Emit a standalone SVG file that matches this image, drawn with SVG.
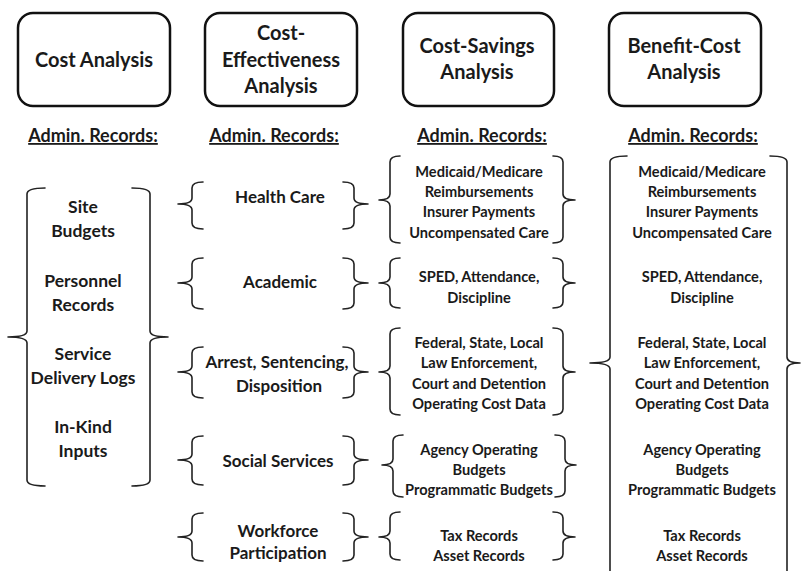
<svg xmlns="http://www.w3.org/2000/svg" width="801" height="571" viewBox="0 0 801 571">
  <style>
    text { font-family: Lato, "Liberation Sans", sans-serif; font-weight: bold; fill: #1a1a1a; text-anchor: middle; }
    .title { font-size: 20px; }
    .admin { font-size: 18px; text-decoration: underline; }
    .big { font-size: 17.5px; }
    .mid { font-size: 17px; }
    .small { font-size: 14.6px; }
    .box { fill: #ffffff; stroke: #111111; stroke-width: 2.5; }
    .brace { fill: none; stroke: #222222; stroke-width: 1.6; stroke-linejoin: round; stroke-linecap: round; }
  </style>
  <rect width="801" height="571" fill="#ffffff"/>

  <!-- Analysis type headers -->
  <g id="cost-analysis">
    <rect class="box" x="18" y="13" width="152" height="93" rx="15"/>
    <text class="title" x="94" y="67">Cost Analysis</text>
  </g>
  <g id="cost-effectiveness">
    <rect class="box" x="205" y="13" width="152" height="93" rx="15"/>
    <text class="title" x="281" y="40">Cost-</text>
    <text class="title" x="281" y="67">Effectiveness</text>
    <text class="title" x="281" y="93">Analysis</text>
  </g>
  <g id="cost-savings">
    <rect class="box" x="403" y="13" width="151" height="93" rx="15"/>
    <text class="title" x="477" y="53">Cost-Savings</text>
    <text class="title" x="477" y="79">Analysis</text>
  </g>
  <g id="benefit-cost">
    <rect class="box" x="609" y="13" width="152" height="93" rx="15"/>
    <text class="title" x="684" y="53">Benefit-Cost</text>
    <text class="title" x="684" y="79">Analysis</text>
  </g>

  <!-- Column captions -->
  <g id="captions">
    <text class="admin" x="93" y="142">Admin. Records:</text>
    <text class="admin" x="274" y="142">Admin. Records:</text>
    <text class="admin" x="482" y="142">Admin. Records:</text>
    <text class="admin" x="693" y="142">Admin. Records:</text>
  </g>

  <!-- Braces grouping the record sources -->
  <g id="connectors">
    <!-- cost analysis -->
    <path class="brace" d="M45,188 Q27,188 27,194 V331 Q27,337 8,337 Q27,337 27,343 V480 Q27,486 45,486"/>
    <path class="brace" d="M132,188 Q150,188 150,194 V331 Q150,337 168,337 Q150,337 150,343 V480 Q150,486 132,486"/>
    <!-- cost-effectiveness -->
    <path class="brace" d="M203,182 Q192,182 192,188 V198 Q192,204 178,204 Q192,204 192,210 V223 Q192,229 203,229"/>
    <path class="brace" d="M343,182 Q354,182 354,188 V198 Q354,204 368,204 Q354,204 354,210 V223 Q354,229 343,229"/>
    <path class="brace" d="M203,258 Q192,258 192,264 V277 Q192,283 178,283 Q192,283 192,289 V303 Q192,309 203,309"/>
    <path class="brace" d="M343,258 Q354,258 354,264 V277 Q354,283 368,283 Q354,283 354,289 V303 Q354,309 343,309"/>
    <path class="brace" d="M203,347 Q192,347 192,353 V366 Q192,372 178,372 Q192,372 192,378 V392 Q192,398 203,398"/>
    <path class="brace" d="M343,347 Q354,347 354,353 V366 Q354,372 368,372 Q354,372 354,378 V392 Q354,398 343,398"/>
    <path class="brace" d="M203,436 Q192,436 192,442 V454 Q192,460 178,460 Q192,460 192,466 V479 Q192,485 203,485"/>
    <path class="brace" d="M343,436 Q354,436 354,442 V454 Q354,460 368,460 Q354,460 354,466 V479 Q354,485 343,485"/>
    <path class="brace" d="M203,513 Q192,513 192,519 V531 Q192,537 178,537 Q192,537 192,543 V555 Q192,561 203,561"/>
    <path class="brace" d="M343,513 Q354,513 354,519 V531 Q354,537 368,537 Q354,537 354,543 V555 Q354,561 343,561"/>
    <!-- cost-savings -->
    <path class="brace" d="M400,156 Q390,156 390,162 V194 Q390,200 379,200 Q390,200 390,206 V237 Q390,243 400,243"/>
    <path class="brace" d="M553,156 Q563,156 563,162 V194 Q563,200 575,200 Q563,200 563,206 V237 Q563,243 553,243"/>
    <path class="brace" d="M400,258 Q390,258 390,264 V277 Q390,283 379,283 Q390,283 390,289 V302 Q390,308 400,308"/>
    <path class="brace" d="M553,258 Q563,258 563,264 V277 Q563,283 575,283 Q563,283 563,289 V302 Q563,308 553,308"/>
    <path class="brace" d="M400,328 Q390,328 390,334 V366 Q390,372 379,372 Q390,372 390,378 V409 Q390,415 400,415"/>
    <path class="brace" d="M553,328 Q563,328 563,334 V366 Q563,372 575,372 Q563,372 563,378 V409 Q563,415 553,415"/>
    <path class="brace" d="M403,435 Q393,435 393,441 V459 Q393,465 382,465 Q393,465 393,471 V491 Q393,497 403,497"/>
    <path class="brace" d="M555,435 Q565,435 565,441 V459 Q565,465 576,465 Q565,465 565,471 V491 Q565,497 555,497"/>
    <path class="brace" d="M400,512 Q390,512 390,518 V531 Q390,537 379,537 Q390,537 390,543 V554 Q390,560 400,560"/>
    <path class="brace" d="M553,512 Q563,512 563,518 V531 Q563,537 575,537 Q563,537 563,543 V554 Q563,560 553,560"/>
    <!-- benefit-cost -->
    <path class="brace" d="M627,156 Q610,156 610,162 V357 Q610,363 590,363 Q610,363 610,369 V580"/>
    <path class="brace" d="M770,156 Q787,156 787,162 V357 Q787,363 800,363 Q787,363 787,369 V580"/>
  </g>

  <!-- Cost analysis records -->
  <g id="ca-records">
    <text class="big" x="83" y="213">Site</text>
    <text class="big" x="83" y="237">Budgets</text>
    <text class="big" x="83" y="287">Personnel</text>
    <text class="big" x="83" y="311">Records</text>
    <text class="big" x="83" y="360">Service</text>
    <text class="big" x="83" y="384">Delivery Logs</text>
    <text class="big" x="83" y="433">In-Kind</text>
    <text class="big" x="83" y="457">Inputs</text>
  </g>

  <!-- Cost-effectiveness outcome domains -->
  <g id="ce-health"><text class="mid" x="280" y="203">Health Care</text></g>
  <g id="ce-academic"><text class="mid" x="280" y="288">Academic</text></g>
  <g id="ce-arrest">
    <text class="mid" x="277" y="368">Arrest, Sentencing,</text>
    <text class="mid" x="279" y="392">Disposition</text>
  </g>
  <g id="ce-social"><text class="mid" x="278" y="467">Social Services</text></g>
  <g id="ce-workforce">
    <text class="mid" x="278" y="537">Workforce</text>
    <text class="mid" x="278" y="559">Participation</text>
  </g>

  <!-- Cost-savings record sources -->
  <g id="cs-health">
    <text class="small" x="479" y="177">Medicaid/Medicare</text>
    <text class="small" x="479" y="197">Reimbursements</text>
    <text class="small" x="479" y="217">Insurer Payments</text>
    <text class="small" x="479" y="238">Uncompensated Care</text>
  </g>
  <g id="cs-academic">
    <text class="small" x="479" y="282">SPED, Attendance,</text>
    <text class="small" x="479" y="303">Discipline</text>
  </g>
  <g id="cs-justice">
    <text class="small" x="479" y="348">Federal, State, Local</text>
    <text class="small" x="479" y="368">Law Enforcement,</text>
    <text class="small" x="479" y="389">Court and Detention</text>
    <text class="small" x="479" y="409">Operating Cost Data</text>
  </g>
  <g id="cs-social">
    <text class="small" x="479" y="455">Agency Operating</text>
    <text class="small" x="479" y="475">Budgets</text>
    <text class="small" x="479" y="495">Programmatic Budgets</text>
  </g>
  <g id="cs-workforce">
    <text class="small" x="479" y="541">Tax Records</text>
    <text class="small" x="479" y="561">Asset Records</text>
  </g>

  <!-- Benefit-cost record sources -->
  <g id="bc-records">
    <text class="small" x="702" y="177">Medicaid/Medicare</text>
    <text class="small" x="702" y="197">Reimbursements</text>
    <text class="small" x="702" y="217">Insurer Payments</text>
    <text class="small" x="702" y="238">Uncompensated Care</text>
    <text class="small" x="702" y="282">SPED, Attendance,</text>
    <text class="small" x="702" y="303">Discipline</text>
    <text class="small" x="702" y="348">Federal, State, Local</text>
    <text class="small" x="702" y="368">Law Enforcement,</text>
    <text class="small" x="702" y="389">Court and Detention</text>
    <text class="small" x="702" y="409">Operating Cost Data</text>
    <text class="small" x="702" y="455">Agency Operating</text>
    <text class="small" x="702" y="475">Budgets</text>
    <text class="small" x="702" y="495">Programmatic Budgets</text>
    <text class="small" x="702" y="541">Tax Records</text>
    <text class="small" x="702" y="561">Asset Records</text>
  </g>
</svg>
